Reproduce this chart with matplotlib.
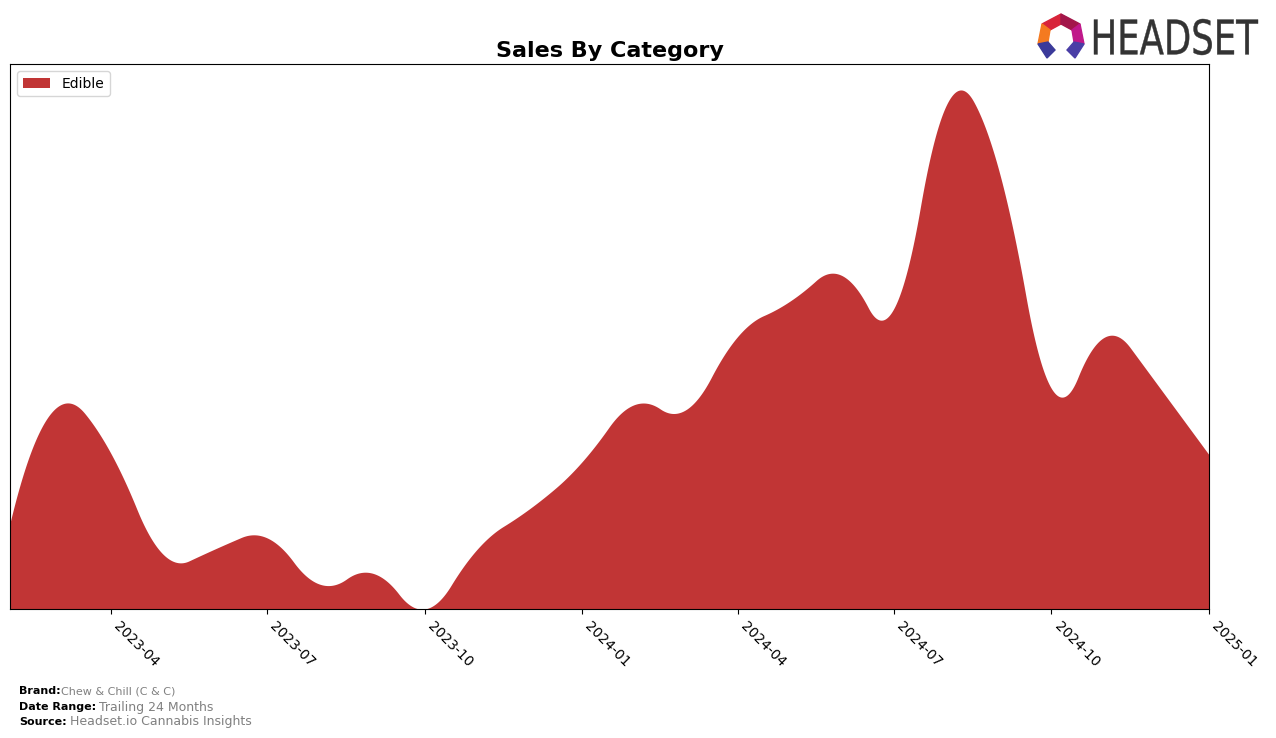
import numpy as np
import pandas as pd
import matplotlib
matplotlib.use('agg')
import matplotlib.pyplot as plt
import matplotlib.dates as mdates
from matplotlib.patches import Polygon, PathPatch
from matplotlib.textpath import TextPath
from matplotlib.font_manager import FontProperties
from matplotlib.transforms import Affine2D

# monthly sales for the Edible category (arbitrary units)
months = pd.date_range('2023-02-01', periods=24, freq='MS')
edible = [87, 205, 157, 56, 61, 72, 25, 36, 0, 61, 101, 149,
          207, 201, 276, 311, 337, 304, 511, 439, 223, 275, 229, 156]
category = 'Edible'
fill_color = '#c13535'


def bspline_basis(t, k, xs):
    # Cox-de Boor recursion
    B = np.zeros((len(xs), len(t) - 1))
    for i in range(len(t) - 1):
        B[:, i] = (xs >= t[i]) & (xs < t[i + 1])
    last = max(i for i in range(len(t) - 1) if t[i] < t[i + 1])
    B[xs >= t[-1], last] = 1.0
    for d in range(1, k + 1):
        Bn = np.zeros((len(xs), len(t) - 1 - d))
        for i in range(len(t) - 1 - d):
            den1 = t[i + d] - t[i]
            den2 = t[i + d + 1] - t[i + 1]
            left = (xs - t[i]) / den1 * B[:, i] if den1 > 0 else 0
            right = (t[i + d + 1] - xs) / den2 * B[:, i + 1] if den2 > 0 else 0
            Bn[:, i] = left + right
        B = Bn
    return B


# quadratic interpolating spline (same knot choice as scipy make_interp_spline k=2)
x = mdates.date2num(months.to_pydatetime())
y = np.array(edible, dtype=float)
k = 2
mid = (x[1:] + x[:-1]) / 2.
t = np.r_[(x[0],) * (k + 1), mid[1:-1], (x[-1],) * (k + 1)]
coef = np.linalg.solve(bspline_basis(t, k, x), y)
xs = np.linspace(x[0], x[-1], 1200)
ys = np.clip(bspline_basis(t, k, xs) @ coef, 0, None)

fig = plt.figure(figsize=(12.76, 7.38), dpi=100)
ax = fig.add_axes([10 / 1276, 129 / 738, 1199 / 1276, 545 / 738])

ax.fill_between(mdates.num2date(xs), ys, 0, color=fill_color, linewidth=0, label=category)
ax.set_xlim(mdates.num2date(x[0]), mdates.num2date(x[-1]))
ax.set_ylim(0, ys.max() * 1.05)

ax.xaxis.set_major_locator(mdates.MonthLocator(bymonth=[1, 4, 7, 10]))
ax.xaxis.set_major_formatter(mdates.DateFormatter('%Y-%m'))
plt.setp(ax.get_xticklabels(), rotation=-45, ha='left', fontsize=10)
ax.set_yticks([])

ax.set_title('Sales By Category', fontsize=16, fontweight='bold', pad=5)
ax.legend(loc='upper left', fontsize=10, handlelength=2, borderpad=0.4)

# footer
fig.text(19 / 1276, 1 - 691 / 738, 'Brand:', fontsize=8, fontweight='bold', va='center')
fig.text(61 / 1276, 1 - 691 / 738, 'Chew & Chill (C & C)', fontsize=8, color='grey', va='center')
fig.text(19 / 1276, 1 - 707 / 738, 'Date Range:', fontsize=8, fontweight='bold', va='center')
fig.text(99 / 1276, 1 - 707 / 738, 'Trailing 24 Months', fontsize=9, color='grey', va='center')
fig.text(19 / 1276, 1 - 722 / 738, 'Source:', fontsize=8, fontweight='bold', va='center')
fig.text(70 / 1276, 1 - 722 / 738, 'Headset.io Cannabis Insights', fontsize=9, color='grey', va='center')


# logo
def px(pts):
    return [(a / 1276, 1 - b / 738) for a, b in pts]


logo_parts = [
    ([(1042, 24), (1061, 14), (1061, 24), (1050, 30)], '#d8243a'),
    ([(1061, 14), (1080, 24), (1072, 30), (1061, 24)], '#a3164a'),
    ([(1080, 24), (1084, 44), (1074, 42), (1072, 30)], '#c0188a'),
    ([(1042, 24), (1050, 30), (1048, 42), (1038, 44)], '#f47a20'),
    ([(1038, 44), (1048, 42), (1055, 50), (1047, 58)], '#3b3a9a'),
    ([(1084, 44), (1074, 42), (1067, 50), (1075, 58)], '#4a3ea6'),
]
for pts, c in logo_parts:
    fig.patches.append(Polygon(px(pts), closed=True, color=c, transform=fig.transFigure, figure=fig))

# wordmark squeezed into its box (x 1093-1259, y 19-55 px)
tp = TextPath((0, 0), 'HEADSET', size=10,
              prop=FontProperties(family='DejaVu Sans', stretch='condensed'))
ext = tp.get_extents()
x0, x1, top, bot = 1094, 1258, 19, 55
sx = (x1 - x0) / 1276 / ext.width
sy = (bot - top) / 738 / ext.height
tr = (Affine2D().translate(-ext.x0, -ext.y0).scale(sx, sy)
      .translate(x0 / 1276, 1 - bot / 738))
fig.patches.append(PathPatch(tr.transform_path(tp), facecolor='#333333', edgecolor='#333333',
                             linewidth=0.3, transform=fig.transFigure, figure=fig))

plt.savefig('out.png', dpi=100)
